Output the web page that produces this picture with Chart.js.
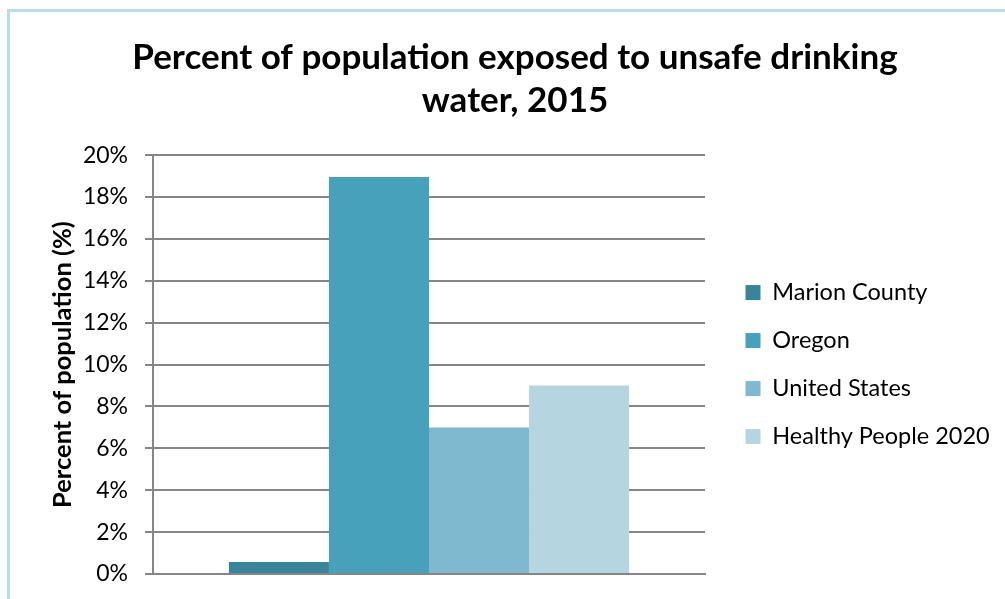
<!DOCTYPE html>
<html>
<head>
<meta charset="utf-8">
<script src="https://cdn.jsdelivr.net/npm/chart.js@4.4.0/dist/chart.umd.min.js"></script>
<style>
  html, body { margin: 0; padding: 0; background: #fff; }
  #wrap { position: relative; width: 1005px; height: 599px; overflow: hidden; }
  #frame {
    position: absolute; left: 7px; top: 9px; width: 1100px; height: 700px;
    border: 3px solid #b7dde8; box-sizing: border-box; pointer-events: none;
  }
  #chart { position: absolute; left: 0; top: 0; }
</style>
</head>
<body>
<div id="wrap">
  <div id="frame"></div>
  <canvas id="chart" width="1005" height="599"></canvas>
</div>
<script>
// 数据
const categories = [''];
const seriesNames = ['Marion County', 'Oregon', 'United States', 'Healthy People 2020'];
const seriesValues = [[0.57], [18.95], [7.0], [9.0]];
const seriesColors = ['#38859a', '#48a1ba', '#7eb9cf', '#b5d5e1'];
const yTicks = [0, 2, 4, 6, 8, 10, 12, 14, 16, 18, 20];

const fontFamily = 'Lato, "Open Sans", sans-serif';
const legendSize = 23.5;
const legendPad = 24.5;
const legendWidth = 284;   // 图例区宽度（到画布右边）
const gapWidth = 16;       // 绘图区和图例之间的空隙

// 固定图例宽度，并让图例在绘图区高度内垂直居中
const legendPlacement = {
    id: 'legendPlacement',
    beforeLayout: function (chart) {
        const lg = chart.legend;
        if (!lg || lg._fixedFit) return;
        const fit = lg.fit;
        lg.fit = function () {
            fit.call(this);
            this.width = legendWidth;
        };
        lg._fixedFit = true;
    },
    afterLayout: function (chart) {
        const lg = chart.legend;
        if (!lg) return;
        lg.top = chart.chartArea.top;
        lg.bottom = chart.chartArea.bottom;
        lg.height = lg.bottom - lg.top;
    }
};

const datasets = seriesNames.map(function (name, i) {
    return {
        label: name,
        data: seriesValues[i],
        backgroundColor: seriesColors[i],
        borderWidth: 0,
        categoryPercentage: 0.725,
        barPercentage: 1.0
    };
});

const ctx = document.getElementById('chart').getContext('2d');
new Chart(ctx, {
    type: 'bar',
    data: { labels: categories, datasets: datasets },
    plugins: [legendPlacement],
    options: {
        responsive: false,
        animation: false,
        layout: { padding: { left: 25, right: 0, top: 36, bottom: 25 } },
        plugins: {
            title: {
                display: true,
                text: ['Percent of population exposed to unsafe drinking', 'water, 2015'],
                color: '#000',
                font: { family: fontFamily, size: 35, weight: 'bold', lineHeight: 1.23 },
                padding: { top: 0, bottom: 33 }
            },
            legend: {
                position: 'right',
                maxWidth: 400,
                labels: {
                    color: '#000',
                    font: { family: fontFamily, size: legendSize },
                    boxWidth: 15,
                    boxHeight: 15,
                    padding: legendPad
                }
            },
            tooltip: { enabled: false }
        },
        scales: {
            x: {
                afterFit: function (axis) { axis.height = 0; },
                grid: { display: false },
                border: { display: true, color: '#868686', width: 2 },
                ticks: { display: false }
            },
            y: {
                min: 0,
                max: 20,
                afterFit: function (axis) {
                    axis.width = 128;
                    // 不让刻度文字的上下余量把绘图区挤小
                    axis.paddingTop = 0;
                    axis.paddingBottom = 0;
                },
                afterBuildTicks: function (axis) {
                    axis.ticks = yTicks.map(function (v) { return { value: v }; });
                },
                grid: {
                    color: '#868686',
                    lineWidth: 2,
                    tickLength: 8,
                    drawTicks: true
                },
                border: { display: true, color: '#868686', width: 2 },
                ticks: {
                    color: '#000',
                    font: { family: fontFamily, size: 23 },
                    padding: 17,
                    callback: function (v) { return v + '%'; }
                },
                title: {
                    display: true,
                    text: 'Percent of population (%)',
                    color: '#000',
                    font: { family: fontFamily, size: 25.5, weight: 'bold' },
                    padding: { top: 22, bottom: 0 }
                }
            },
            gap: {
                position: 'right',
                display: true,
                afterFit: function (axis) { axis.width = gapWidth; },
                grid: { display: false },
                border: { display: false },
                ticks: { display: false }
            }
        }
    }
});
</script>
</body>
</html>
